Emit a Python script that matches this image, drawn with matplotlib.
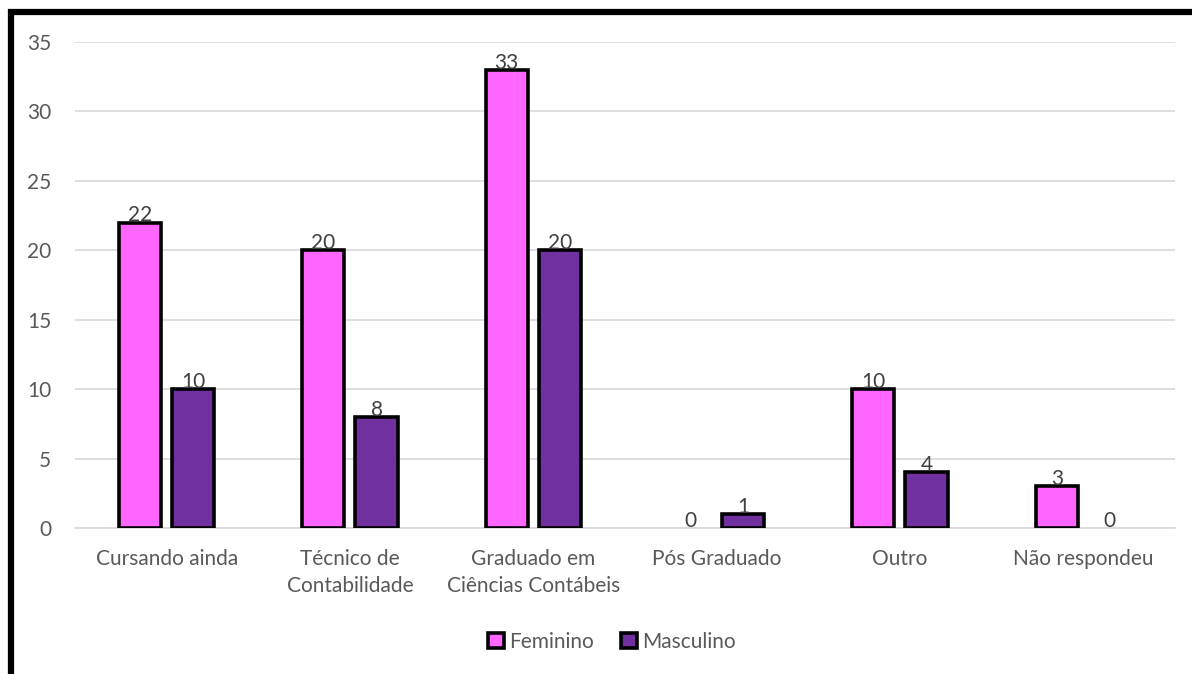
import numpy as np
import matplotlib
matplotlib.use("Agg")
import matplotlib.pyplot as plt
from matplotlib.patches import Rectangle

categorias = ["Cursando ainda", "Técnico de\nContabilidade", "Graduado em\nCiências Contábeis",
              "Pós Graduado", "Outro", "Não respondeu"]
feminino = [22, 20, 33, 0, 10, 3]
masculino = [10, 8, 20, 1, 4, 0]
series = ["Feminino", "Masculino"]
cores = ["#FF66FF", "#7030A0"]
yticks = [0, 5, 10, 15, 20, 25, 30, 35]

plt.rcParams["font.family"] = ["Lato", "DejaVu Sans"]
TXT = "#595959"
FS = 15

fig = plt.figure(figsize=(11.92, 6.74), dpi=100)
ax = fig.add_axes([75 / 1192, 1 - 528 / 674, 1100 / 1192, 486 / 674])

x = np.arange(len(categorias))
w = 0.23
off = 0.145
for vals, cor, nome, d in zip([feminino, masculino], cores, series, [-off, off]):
    bars = ax.bar(x + d, vals, w, color=cor, edgecolor="black", linewidth=2.6,
                  label=nome, zorder=3)
    for b, v in zip(bars, vals):
        ax.annotate(f"{v}", (b.get_x() + b.get_width() / 2, v), xytext=(0, -2),
                    textcoords="offset points", ha="center", va="bottom",
                    fontsize=FS, color="#404040", zorder=4)
    # zero-height bars should not show an outline
    for b, v in zip(bars, vals):
        if v == 0:
            b.set_visible(False)

ax.set_xlim(-0.5, len(categorias) - 0.5)
ax.set_ylim(0, 35)
ax.set_yticks(yticks)
ax.yaxis.grid(True, color="#D9D9D9", linewidth=1.2, zorder=0)
ax.set_axisbelow(True)
for s in ["top", "right", "left"]:
    ax.spines[s].set_visible(False)
ax.spines["bottom"].set_color("#D9D9D9")
ax.spines["bottom"].set_linewidth(1.2)
ax.tick_params(axis="both", length=0, labelsize=FS, labelcolor=TXT)
ax.tick_params(axis="y", pad=17)
ax.tick_params(axis="x", pad=15)
ax.set_xticks(x)
ax.set_xticklabels(categorias, linespacing=1.45)
for lbl in ax.get_yticklabels():
    lbl.set_horizontalalignment("right")

leg = fig.legend(loc="center", bbox_to_anchor=(612 / 1192, 1 - 642 / 674), ncol=2,
                 frameon=False, fontsize=FS, labelcolor=TXT, handlelength=0.75,
                 handleheight=0.75, handletextpad=0.25, columnspacing=1.3)

# thick outer frame (left and top visible)
fig.patches.append(Rectangle((10.5 / 1192, -0.1), 1.2, 1 - 12 / 674 + 0.1,
                             transform=fig.transFigure, fill=False,
                             edgecolor="black", linewidth=4.5, zorder=10))

fig.savefig("out.png", dpi=100)
